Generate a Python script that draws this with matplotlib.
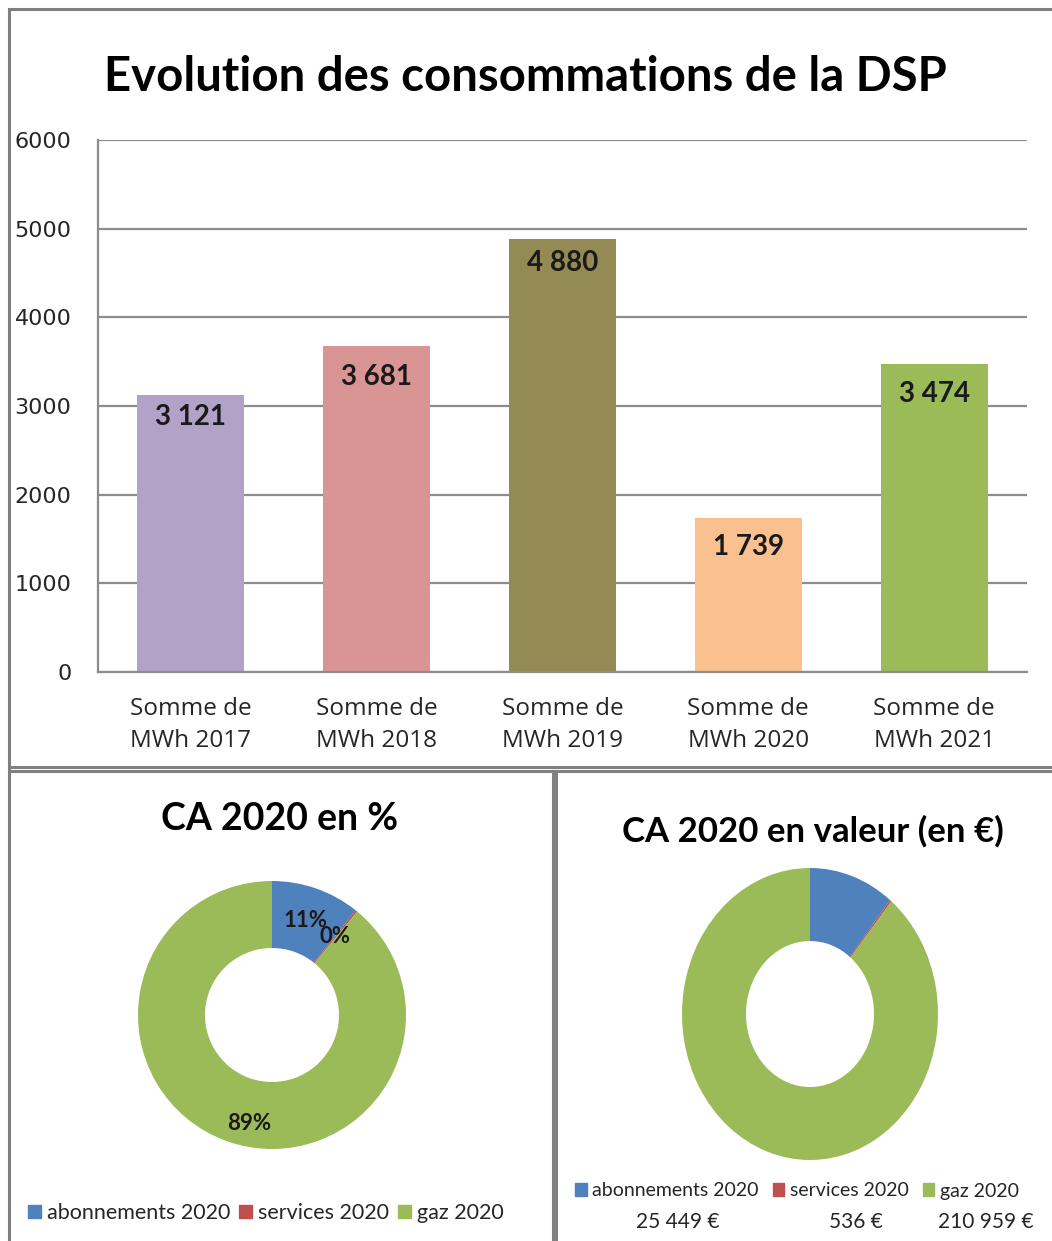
import matplotlib.pyplot as plt
from matplotlib.lines import Line2D
from matplotlib.patches import Patch

W, H = 1052, 1241

# bar chart data
categories = ['Somme de\nMWh 2017', 'Somme de\nMWh 2018', 'Somme de\nMWh 2019',
              'Somme de\nMWh 2020', 'Somme de\nMWh 2021']
mwh = [3121, 3681, 4880, 1739, 3474]
bar_colors = ['#B3A2C7', '#D99594', '#948A54', '#FAC090', '#9BBB59']
y_ticks = [0, 1000, 2000, 3000, 4000, 5000, 6000]

# CA 2020 data
ca_labels = ['abonnements 2020', 'services 2020', 'gaz 2020']
ca_values = [25449, 536, 210959]
ca_colors = ['#4F81BD', '#C0504D', '#9BBB59']


def fx(px):
    return px / W


def fy(py):
    return 1 - py / H


def fmt(v):
    return f'{v:,}'.replace(',', ' ')


fig = plt.figure(figsize=(W / 100, H / 100), dpi=100)

# panel frames
frame = dict(color='#7f7f7f', lw=2.2, transform=fig.transFigure)
fig.add_artist(Line2D([fx(9), fx(W)], [fy(9), fy(9)], **frame))
fig.add_artist(Line2D([fx(9), fx(9)], [fy(9), fy(H)], **frame))
fig.add_artist(Line2D([fx(9), fx(W)], [fy(767), fy(767)], **frame))
fig.add_artist(Line2D([fx(9), fx(W)], [fy(771), fy(771)], **frame))
fig.add_artist(Line2D([fx(553), fx(553)], [fy(771), fy(H)], **frame))
fig.add_artist(Line2D([fx(556), fx(556)], [fy(771), fy(H)], **frame))

# ---- bar chart ----
fig.text(fx(525), fy(91), 'Evolution des consommations de la DSP',
         ha='center', va='baseline', fontsize=34, fontweight='bold', family='Lato')

ax = fig.add_axes([fx(98), fy(672), (1027 - 98) / W, (672 - 140) / H])
x = range(len(mwh))
bars = ax.bar(x, mwh, width=0.575, color=bar_colors, zorder=2)
ax.set_xlim(-0.5, len(mwh) - 0.5)
ax.set_ylim(0, 6000)
ax.set_yticks(y_ticks)
ax.set_xticks(list(x))
ax.set_xticklabels(categories, family='Open Sans', fontsize=17.5, color='#262626',
                   linespacing=1.45)
for lab in ax.get_yticklabels():
    lab.set_family('DejaVu Sans')
    lab.set_fontsize(16)
    lab.set_color('#262626')
ax.tick_params(axis='y', length=0, pad=19)
ax.tick_params(axis='x', length=0, pad=18)
ax.grid(axis='y', color='#8c8c8c', lw=1.6, zorder=0)
for s in ['top', 'right']:
    ax.spines[s].set_visible(False)
for s in ['left', 'bottom']:
    ax.spines[s].set_color('#8c8c8c')
    ax.spines[s].set_linewidth(1.6)

# value labels sit just inside the top of each bar
label_drop = [22, 31, 24, 29, 30]
for b, v, d in zip(bars, mwh, label_drop):
    ax.annotate(fmt(v), (b.get_x() + b.get_width() / 2, v), xytext=(0, -d),
                textcoords='offset pixels', ha='center', va='center',
                fontsize=20, fontweight='bold', family='Lato', color='#1a1a1a')

# ---- CA 2020 en % ----
r1 = 134
ax1 = fig.add_axes([fx(272 - r1), fy(1015 + r1), 2 * r1 / W, 2 * r1 / H])
wedges, texts, autotexts = ax1.pie(
    ca_values, colors=ca_colors, startangle=90, counterclock=False,
    wedgeprops=dict(width=0.5), autopct=lambda p: f'{p:.0f}%', pctdistance=0.75,
    textprops=dict(fontsize=16, fontweight='bold', family='Lato', color='#1a1a1a'))
autotexts[2].set_position((-0.17, -0.81))
ax1.set_aspect('auto')
ax1.set_xlim(-1, 1)
ax1.set_ylim(-1, 1)
fig.text(fx(280), fy(830), 'CA 2020 en %', ha='center', va='baseline',
         fontsize=27, fontweight='bold', family='Lato')

handles = [Patch(color=c, label=l) for c, l in zip(ca_colors, ca_labels)]
fig.legend(handles=handles, loc='center', bbox_to_anchor=(fx(266), fy(1213)),
           ncol=3, frameon=False, prop=dict(family='Lato', size=15.5),
           handlelength=0.6, handleheight=0.6, handletextpad=0.3,
           columnspacing=0.4, borderpad=0, labelcolor='#262626')

# ---- CA 2020 en valeur ----
rx2, ry2 = 128, 146
ax2 = fig.add_axes([fx(810 - rx2), fy(1014 + ry2), 2 * rx2 / W, 2 * ry2 / H])
ax2.pie(ca_values, colors=ca_colors, startangle=90, counterclock=False,
        wedgeprops=dict(width=0.5))
ax2.set_aspect('auto')
ax2.set_xlim(-1, 1)
ax2.set_ylim(-1, 1)
fig.text(fx(813), fy(842), 'CA 2020 en valeur (en €)', ha='center', va='baseline',
         fontsize=25, fontweight='bold', family='Lato')

fig.legend(handles=handles, loc='center', bbox_to_anchor=(fx(797), fy(1191)),
           ncol=3, frameon=False, prop=dict(family='Lato', size=14),
           handlelength=0.6, handleheight=0.6, handletextpad=0.3,
           columnspacing=0.7, borderpad=0, labelcolor='#262626')
for cx, v in zip([678, 856, 986], ca_values):
    fig.text(fx(cx), fy(1222), fmt(v) + ' €', ha='center', va='center',
             fontsize=15, family='Lato', color='#262626')

fig.savefig('out.png', dpi=100)
